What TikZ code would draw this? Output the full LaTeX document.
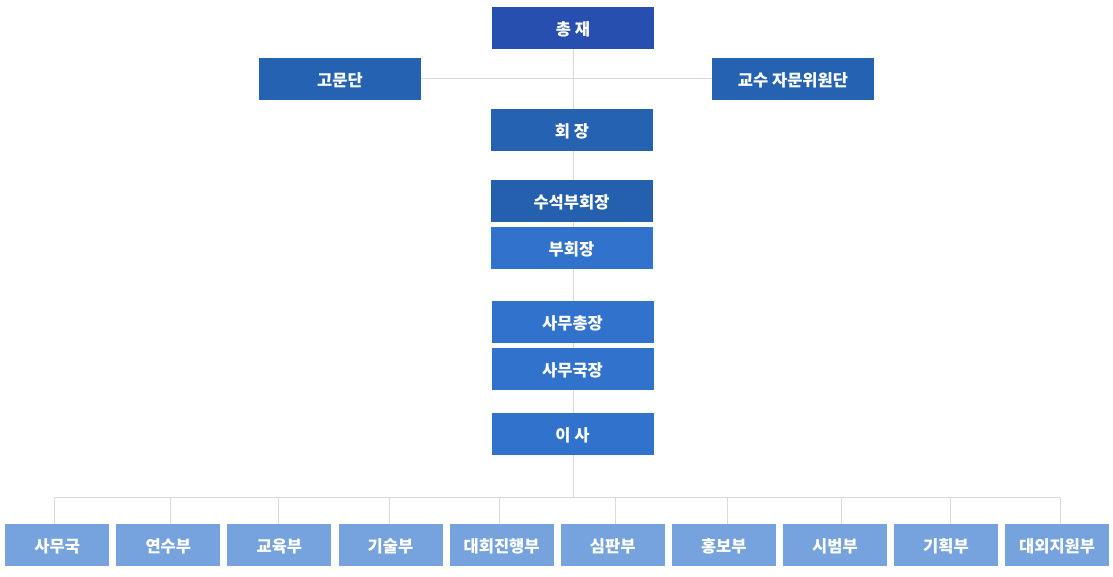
\documentclass[tikz,border=0pt]{standalone}
\usepackage{fontspec}
\setmainfont{Noto Sans CJK KR}
\usepackage{tikz}
\usetikzlibrary{backgrounds}

\definecolor{topblue}{RGB}{39,79,176}
\definecolor{midblue}{RGB}{38,98,178}
\definecolor{vpblue}{RGB}{37,96,174}
\definecolor{lowblue}{RGB}{49,114,204}
\definecolor{deptblue}{RGB}{118,163,222}
\definecolor{linegray}{RGB}{217,217,217}

\begin{document}
\begin{tikzpicture}[
  x=1pt, y=-1pt,
  box/.style={rectangle, fill=#1, text=white, minimum width=162pt,
              minimum height=42pt, inner sep=0pt,
              text height=15pt, text depth=0pt,
              font=\fontsize{16.5}{19}\selectfont\bfseries},
  dept/.style={box=deptblue, minimum width=104pt},
  conn/.style={draw=linegray, line width=1pt}
]
  \useasboundingbox (0,0) rectangle (1113,576);

  \node[box=topblue]  (chair) at (573,  27.5) {총 재};
  \node[box=midblue]  (adv)   at (340,  78.5) {고문단};
  \node[box=midblue]  (prof)  at (793,  78.5) {교수 자문위원단};
  \node[box=midblue]  (pres)  at (572, 129.5) {회 장};
  \node[box=vpblue]   (svp)   at (571.5, 200.5) {수석부회장};
  \node[box=lowblue]  (vp)    at (571.5, 247.5) {부회장};
  \node[box=lowblue]  (sgen)  at (572.5, 321.5) {사무총장};
  \node[box=lowblue]  (sdir)  at (572.5, 368.5) {사무국장};
  \node[box=lowblue]  (board) at (572.5, 433.5) {이 사};

  % departments: index / label / center / connector x
  \foreach \i/\lbl/\cx/\tx in {1/사무국/57.2/54, 2/연수부/168.3/170,
      3/교육부/279.4/278, 4/기술부/390.5/389, 5/대회진행부/501.6/499,
      6/심판부/612.7/615, 7/홍보부/723.8/727, 8/시범부/834.9/841,
      9/기획부/946/950, 10/대외지원부/1057.1/1060} {
    \node[dept] (d\i) at (\cx, 545) {\lbl};
    \coordinate (t\i) at (\tx, 497);
  }
  \coordinate (bus) at (573, 497);

  \begin{scope}[on background layer]
    \draw[conn] (chair.south) -- (bus);
    \draw[conn] (adv.east) -- (prof.west);
    \draw[conn] (t1) -- (t10);
    \foreach \i in {1,...,10}
      \draw[conn] (t\i) -- (t\i |- d\i.north);
  \end{scope}
\end{tikzpicture}
\end{document}
